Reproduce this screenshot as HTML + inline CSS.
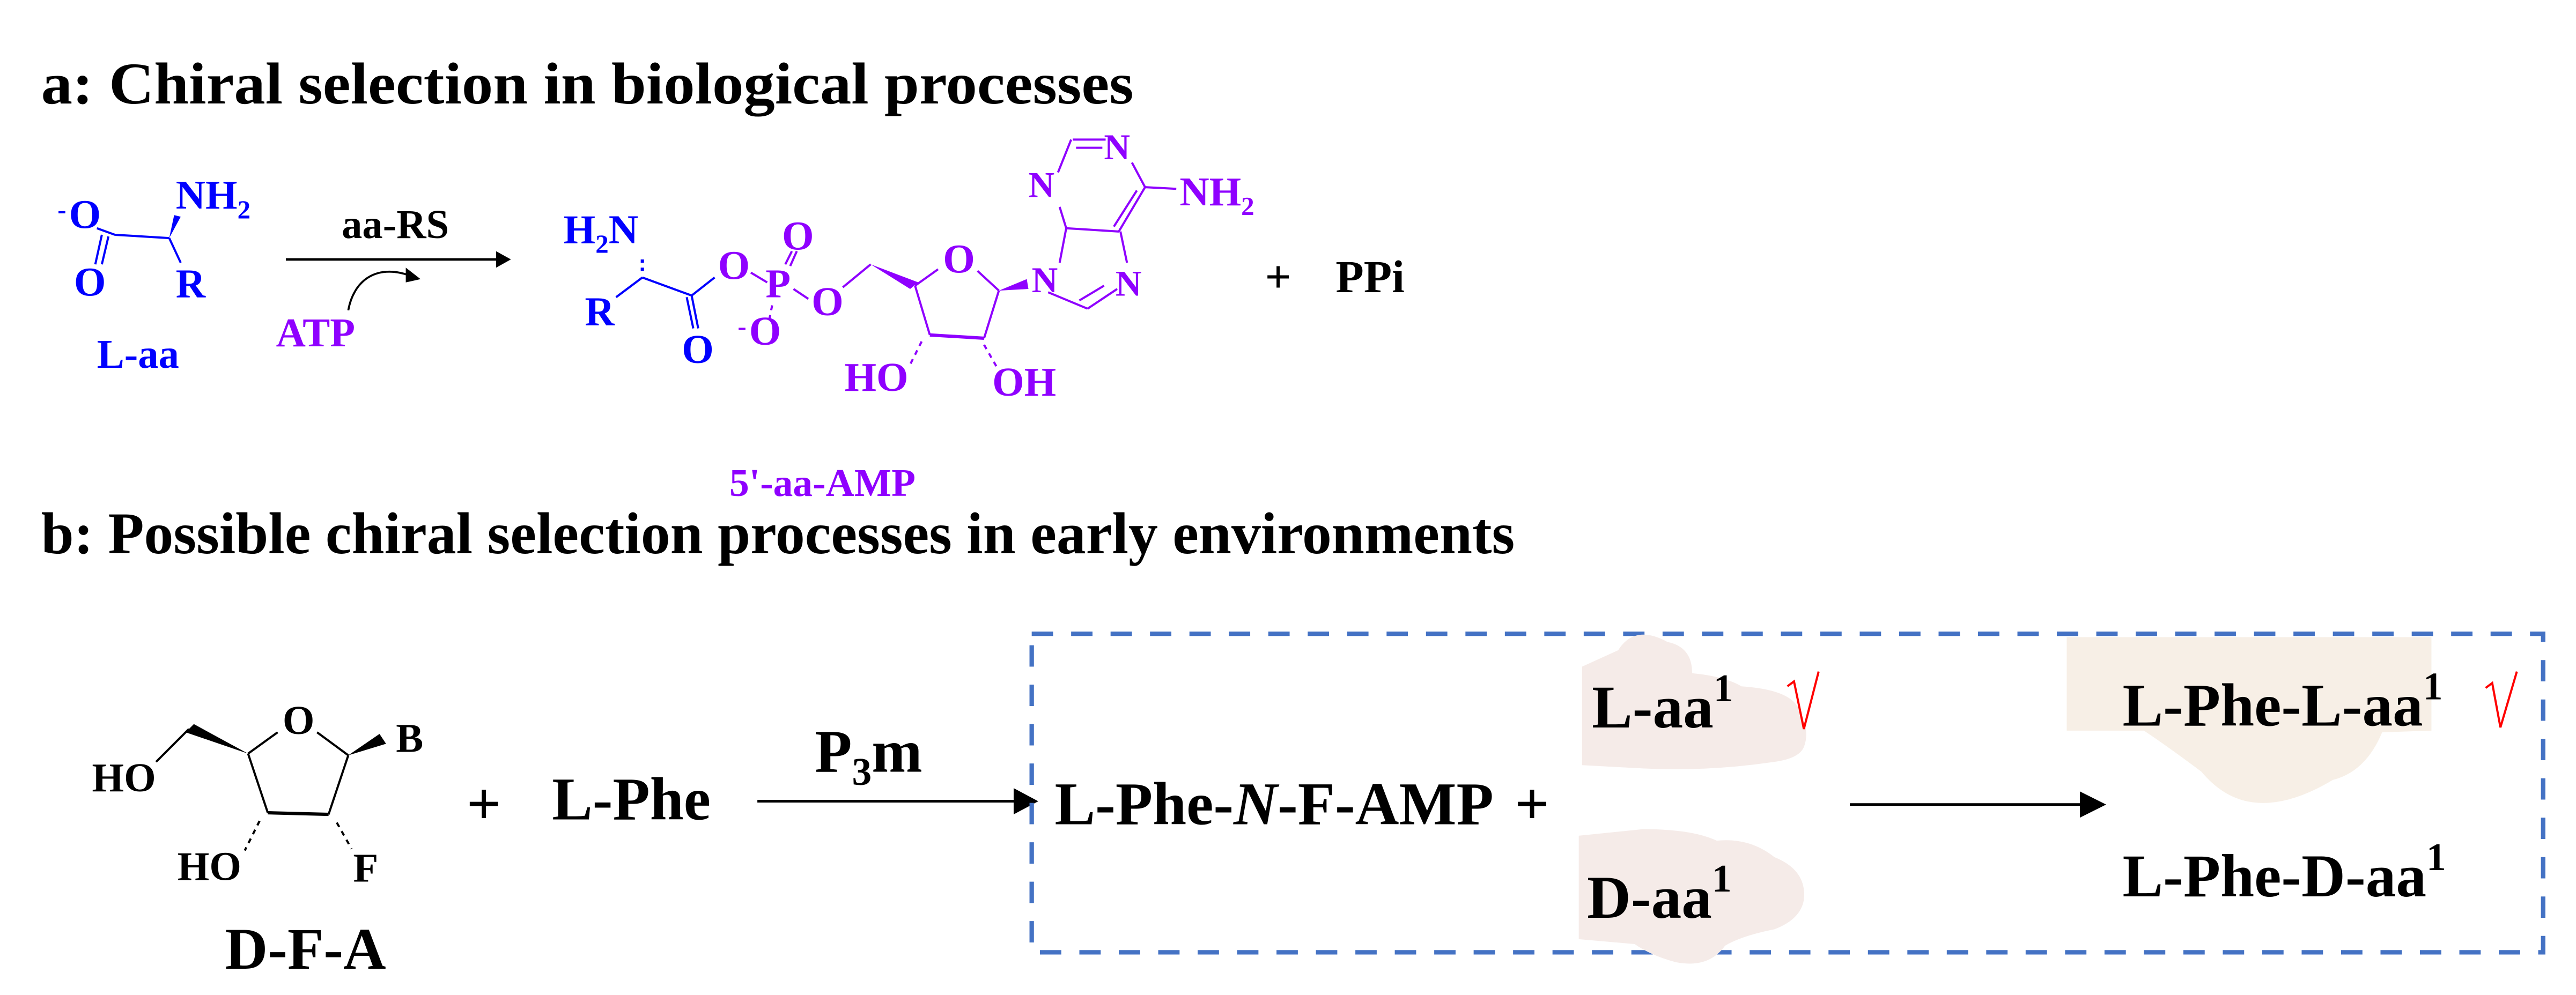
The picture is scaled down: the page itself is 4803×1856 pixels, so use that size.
<!DOCTYPE html>
<html><head><meta charset="utf-8"><style>
html,body{margin:0;padding:0;background:#fff;width:4803px;height:1856px;overflow:hidden}
svg{display:block}
text{font-family:"Liberation Serif",serif;font-weight:bold}
</style></head><body>
<svg width="4803" height="1856" viewBox="0 0 1568 606" preserveAspectRatio="none" xmlns="http://www.w3.org/2000/svg">
<!-- titles -->
<text x="25" y="63" font-size="36" fill="#000" textLength="665" lengthAdjust="spacingAndGlyphs">a: Chiral selection in biological processes</text>
<text x="25" y="337" font-size="36" fill="#000" textLength="897" lengthAdjust="spacingAndGlyphs">b: Possible chiral selection processes in early environments</text>

<!-- Part a: L-aa (blue) -->
<g stroke="#0000ff" stroke-width="1.3" fill="none">
<line x1="70" y1="143" x2="103" y2="145"/>
<line x1="70" y1="143" x2="59" y2="139"/>
<line x1="62" y1="143" x2="58" y2="161"/>
<line x1="66" y1="144" x2="62" y2="161"/>
<line x1="103" y1="145" x2="110" y2="160"/>
<line x1="375" y1="181" x2="391" y2="169"/>
<line x1="391" y1="169" x2="421" y2="180"/>
<line x1="421" y1="180" x2="425" y2="200"/>
<line x1="418" y1="181" x2="422" y2="200"/>
<line x1="421" y1="180" x2="435" y2="169"/>
<line x1="391" y1="158" x2="391" y2="160" stroke-width="2"/>
<line x1="391" y1="163" x2="391" y2="165" stroke-width="2"/>
</g>
<polygon points="103,145 106,131 110,132" fill="#0000ff"/>
<g fill="#0000ff" font-size="25">
<text x="35" y="133" font-size="16">-</text>
<text x="42" y="139">O</text>
<text x="107" y="127">NH<tspan font-size="16" dy="6">2</tspan></text>
<text x="45" y="180">O</text>
<text x="107" y="181">R</text>
<text x="59" y="224">L-aa</text>
<text x="343" y="148">H<tspan font-size="16" dy="6">2</tspan><tspan dy="-6">N</tspan></text>
<text x="356" y="198">R</text>
<text x="415" y="221">O</text>
</g>
<!-- arrow a -->
<line x1="174" y1="158" x2="304" y2="158" stroke="#000" stroke-width="1.5"/>
<polygon points="311,158 302,153 302,163" fill="#000"/>
<text x="208" y="145" font-size="25" fill="#000">aa-RS</text>
<path d="M212,189 C215,172 228,160 250,168" stroke="#000" stroke-width="1.2" fill="none"/>
<polygon points="256,170 247,163 247,172" fill="#000"/>
<text x="168" y="211" font-size="25" fill="#8f00ff">ATP</text>

<!-- AMP purple part -->
<g stroke="#8f00ff" stroke-width="1.3" fill="none">
<line x1="457" y1="166" x2="467" y2="172"/>
<line x1="478" y1="161" x2="482" y2="153"/>
<line x1="481" y1="162" x2="485" y2="153"/>
<line x1="470" y1="186" x2="468" y2="196" stroke-dasharray="3,3"/>
<line x1="483" y1="176" x2="492" y2="182"/>
<line x1="513" y1="175" x2="530" y2="161"/>
<line x1="557" y1="174" x2="571" y2="164"/>
<line x1="595" y1="165" x2="608" y2="177"/>
<line x1="608" y1="177" x2="599" y2="206"/>
<line x1="599" y1="206" x2="566" y2="204" stroke-width="2"/>
<line x1="566" y1="204" x2="557" y2="174"/>
<line x1="561" y1="208" x2="554" y2="222" stroke-dasharray="3,3"/>
<line x1="599" y1="210" x2="607" y2="224" stroke-dasharray="3,3"/>
<line x1="638" y1="178" x2="662" y2="188"/>
<line x1="662" y1="188" x2="680" y2="176"/>
<line x1="657" y1="183" x2="672" y2="174"/>
<line x1="645" y1="160" x2="649" y2="139"/>
<line x1="649" y1="139" x2="681" y2="141"/>
<line x1="682" y1="141" x2="686" y2="160"/>
<line x1="649" y1="139" x2="645" y2="126"/>
<line x1="644" y1="105" x2="652" y2="85"/>
<line x1="653" y1="85" x2="673" y2="85"/>
<line x1="655" y1="90" x2="671" y2="90"/>
<line x1="689" y1="99" x2="697" y2="114"/>
<line x1="697" y1="114" x2="716" y2="115"/>
<line x1="697" y1="114" x2="681" y2="141"/>
<line x1="692" y1="116" x2="678" y2="138"/>
</g>
<polygon points="530,161 559,172 554,176" fill="#8f00ff"/>
<polygon points="608,177 625,170 626,176" fill="#8f00ff"/>
<g fill="#8f00ff" font-size="25">
<text x="437" y="170">O</text>
<text x="466" y="181">P</text>
<text x="476" y="152">O</text>
<text x="449" y="204" font-size="16">-</text>
<text x="456" y="210">O</text>
<text x="494" y="192">O</text>
<text x="574" y="166">O</text>
<text x="514" y="238">HO</text>
<text x="604" y="241">OH</text>
<text x="628" y="178" font-size="22">N</text>
<text x="679" y="180" font-size="22">N</text>
<text x="626" y="120" font-size="22">N</text>
<text x="672" y="97" font-size="22">N</text>
<text x="718" y="125">NH<tspan font-size="16" dy="6">2</tspan></text>
<text x="444" y="302" font-size="24">5'-aa-AMP</text>
</g>
<text x="770" y="178" font-size="28" fill="#000">+</text>
<text x="813" y="178" font-size="28" fill="#000">PPi</text>

<!-- Part b: D-F-A -->
<g stroke="#000" stroke-width="1.3" fill="none">
<line x1="151" y1="459" x2="169" y2="446"/>
<line x1="193" y1="446" x2="212" y2="460"/>
<line x1="212" y1="460" x2="200" y2="496"/>
<line x1="200" y1="496" x2="163" y2="495" stroke-width="2"/>
<line x1="163" y1="495" x2="151" y2="459"/>
<line x1="115" y1="444" x2="95" y2="464"/>
<line x1="158" y1="500" x2="149" y2="518" stroke-dasharray="3,3"/>
<line x1="205" y1="501" x2="214" y2="517" stroke-dasharray="3,3"/>
</g>
<polygon points="151,459 113,446 118,441" fill="#000"/>
<polygon points="212,460 231,447 235,453" fill="#000"/>
<g fill="#000" font-size="25">
<text x="172" y="447">O</text>
<text x="241" y="458">B</text>
<text x="56" y="482">HO</text>
<text x="108" y="536">HO</text>
<text x="215" y="537">F</text>
</g>
<text x="137" y="590" font-size="36" fill="#000">D-F-A</text>
<text x="284" y="502" font-size="37" fill="#000">+</text>
<text x="336" y="499" font-size="37" fill="#000">L-Phe</text>
<text x="496" y="470" font-size="37" fill="#000">P<tspan font-size="24" dy="8">3</tspan><tspan dy="-8">m</tspan></text>
<line x1="461" y1="488" x2="622" y2="488" stroke="#000" stroke-width="1.6"/>
<polygon points="632,488 617,480 617,496" fill="#000"/>

<!-- dashed box -->
<rect x="628" y="386" width="920" height="194" fill="none" stroke="#4472c4" stroke-width="2.7" stroke-dasharray="13,11"/>

<!-- hands -->
<path d="M963,406 L985,396 Q995,380 1015,391 Q1030,394 1030,410 Q1050,412 1060,418 Q1090,420 1095,432 Q1102,445 1098,455 Q1095,462 1080,464 Q1040,470 1000,468 L963,466 Z" fill="#f5ebe8"/>
<path d="M961,509 L1000,505 Q1030,505 1045,512 Q1065,510 1080,522 Q1100,530 1098,548 Q1096,560 1080,566 Q1060,570 1050,576 Q1040,590 1020,586 Q1005,582 995,575 L961,572 Z" fill="#f5ebe8"/>
<path d="M1258,388 L1480,388 L1480,445 L1450,446 Q1440,470 1420,475 Q1395,490 1375,489 Q1355,488 1340,470 Q1320,455 1305,445 L1258,445 Z" fill="#f7efe6"/>

<g fill="#000" font-size="37">
<text x="642" y="502">L-Phe-<tspan font-style="italic">N</tspan>-F-AMP</text>
<text x="922" y="502">+</text>
<text x="969" y="443">L-aa<tspan font-size="24" dy="-16">1</tspan></text>
<text x="966" y="559">D-aa<tspan font-size="24" dy="-16">1</tspan></text>
<text x="1292" y="442">L-Phe-L-aa<tspan font-size="24" dy="-16">1</tspan></text>
<text x="1292" y="546">L-Phe-D-aa<tspan font-size="24" dy="-16">1</tspan></text>
</g>
<line x1="1126" y1="490" x2="1272" y2="490" stroke="#000" stroke-width="1.6"/>
<polygon points="1282,490 1266,482 1266,498" fill="#000"/>
<polyline points="1088,418 1092,415 1098,444 1107,409" fill="none" stroke="#ff0000" stroke-width="1.3"/>
<polyline points="1513,419 1517,416 1522,443 1532,409" fill="none" stroke="#ff0000" stroke-width="1.3"/>
</svg>
</body></html>
